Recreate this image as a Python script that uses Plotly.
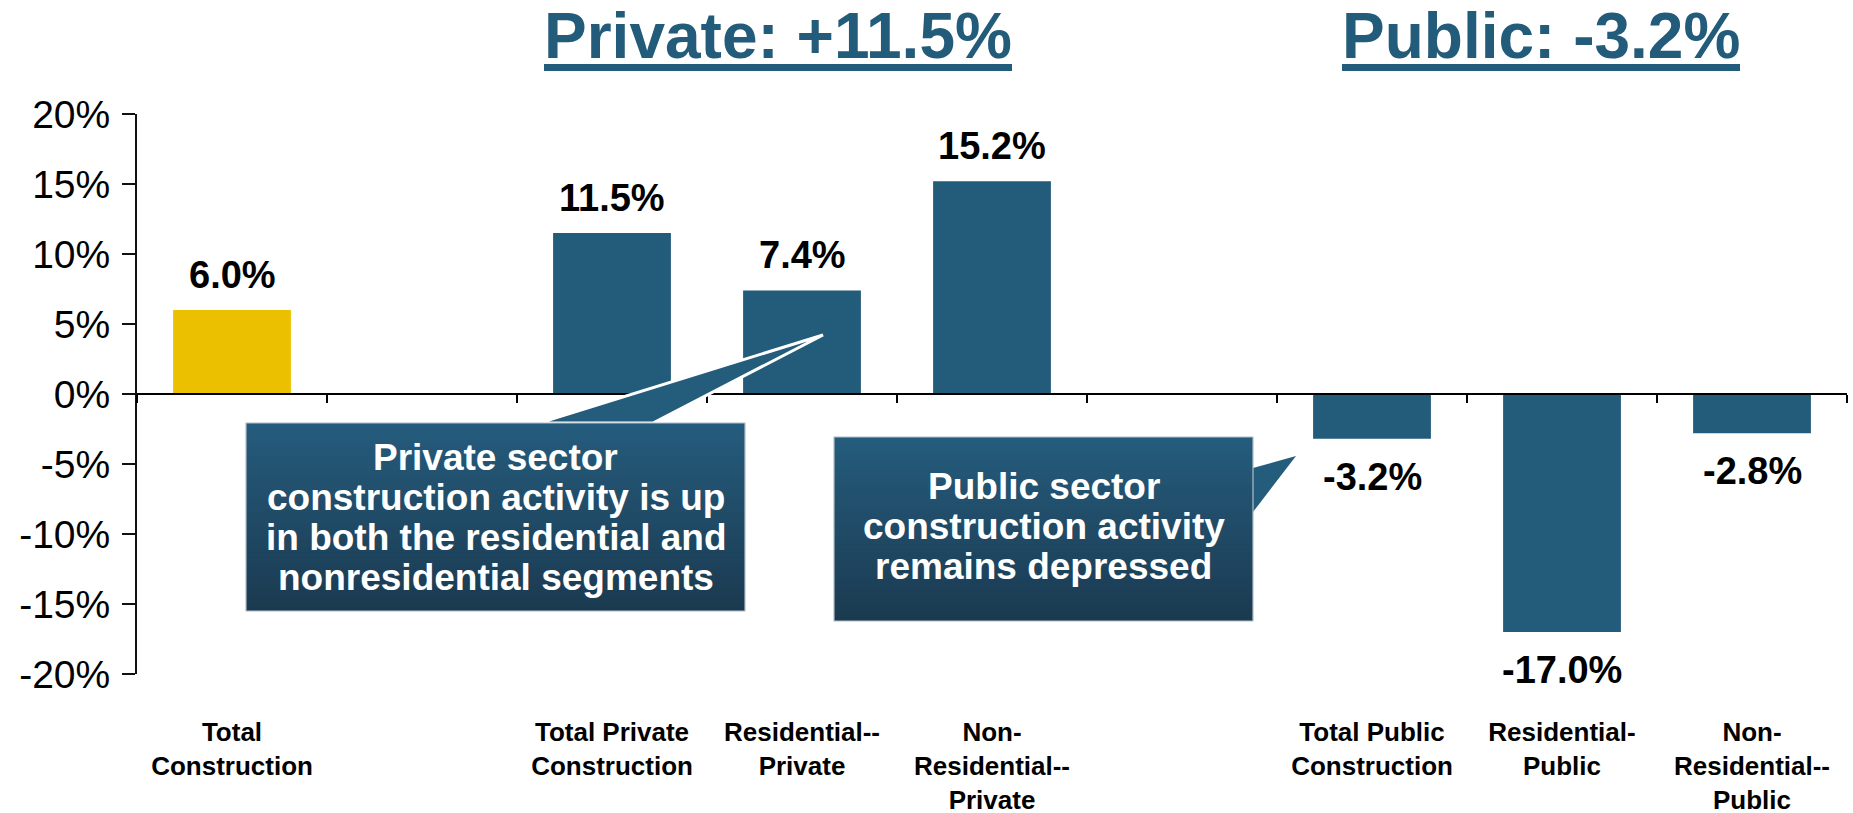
import plotly.graph_objects as go

# ---- data -------------------------------------------------------------
categories = [
    "Total<br>Construction",
    " ",
    "Total Private<br>Construction",
    "Residential--<br>Private",
    "Non-<br>Residential--<br>Private",
    "  ",
    "Total Public<br>Construction",
    "Residential-<br>Public",
    "Non-<br>Residential--<br>Public",
]
values = [6.0, None, 11.5, 7.4, 15.2, None, -3.2, -17.0, -2.8]
bar_colors = ["#EBC000", None, "#235B7A", "#235B7A", "#235B7A", None,
              "#235B7A", "#235B7A", "#235B7A"]
y_ticks = [-20, -15, -10, -5, 0, 5, 10, 15, 20]
y_tick_labels = ["-20%", "-15%", "-10%", "-5%", "0%", "5%", "10%", "15%", "20%"]

private_title = "Private: +11.5%"
public_title = "Public: -3.2%"
private_note = ["Private sector", "construction activity is up",
                "in both the residential and", "nonresidential segments"]
public_note = ["Public sector", "construction activity", "remains depressed"]

# ---- page geometry ----------------------------------------------------
W, H = 1853, 813
L, R, T, B = 137, 6, 114, 139
PW, PH = W - L - R, H - T - B
FONT = "Liberation Sans, Arial, Helvetica, sans-serif"
TEAL = "#235B7A"


def px(x):
    return (x - L) / PW


def py(y):
    return (H - B - y) / PH


fig = go.Figure()

fig.add_trace(go.Bar(
    x=categories, y=values,
    marker=dict(color=[c or TEAL for c in bar_colors], line=dict(width=0)),
    hoverinfo="skip", showlegend=False,
))
# carrier for the zero-line axis categories
fig.add_trace(go.Scatter(
    x=categories, y=values, mode="none", xaxis="x2",
    hoverinfo="skip", showlegend=False,
))

annotations = []
# value labels
for cat, v in zip(categories, values):
    if v is None:
        continue
    annotations.append(dict(
        x=cat, y=v, xref="x", yref="y", text=f"{v:.1f}%", showarrow=False,
        yanchor="bottom" if v >= 0 else "top", yshift=12 if v >= 0 else -15,
        font=dict(family=FONT, size=38, color="black", weight="bold"),
    ))

shapes = []

# section headings with thick underline bars
for text, cx, ux0, ux1 in [(private_title, 778, 544, 1012),
                           (public_title, 1541, 1342, 1740)]:
    annotations.append(dict(
        x=px(cx), y=py(-2), xref="paper", yref="paper", xanchor="center",
        yanchor="top", showarrow=False, text=text,
        font=dict(family=FONT, size=64, color=TEAL, weight="bold"),
    ))
    shapes.append(dict(
        type="rect", xref="paper", yref="paper",
        x0=px(ux0), x1=px(ux1), y0=py(64), y1=py(71),
        fillcolor=TEAL, line=dict(width=0), layer="above",
    ))

annotations.append(dict(
    x=px(193), y=py(2), xref="paper", yref="paper", xanchor="center",
    yanchor="bottom", showarrow=False, text="(%)",
    font=dict(family=FONT, size=42, color=TEAL, weight="bold"),
))


def callout(x0, y0, x1, y1, wedge, wedge_outline):
    # pointer wedge
    path = "M {} {} L {} {} L {} {} Z".format(
        *[f"{px(a):.5f}" if i % 2 == 0 else f"{py(a):.5f}"
          for i, a in enumerate(wedge)])
    shapes.append(dict(
        type="path", path=path, xref="paper", yref="paper",
        fillcolor="#245C7C",
        line=dict(color="white", width=3 if wedge_outline else 0),
        layer="above",
    ))
    # vertical gradient body: each band runs to the bottom edge so no seams show
    n = 48
    top, bot = (37, 92, 125), (27, 58, 80)
    for i in range(n):
        t = (i + 0.5) / n
        c = tuple(round(top[k] + (bot[k] - top[k]) * t) for k in range(3))
        ya = y0 + (y1 - y0) * i / n
        shapes.append(dict(
            type="rect", xref="paper", yref="paper",
            x0=px(x0), x1=px(x1), y0=py(ya), y1=py(y1),
            fillcolor=f"rgb{c}", line=dict(width=0), layer="above",
        ))
    shapes.append(dict(
        type="rect", xref="paper", yref="paper",
        x0=px(x0), x1=px(x1), y0=py(y0), y1=py(y1),
        line=dict(color="#AFBFC9", width=1.2), layer="above",
    ))


callout(246, 423, 745, 611, (539, 423, 823, 335, 653, 423), True)
callout(834, 437, 1253, 621, (1253, 468, 1296, 456, 1253, 512), False)

for i, line in enumerate(private_note):
    annotations.append(dict(
        x=px(495.5), y=py(457 + 40.2 * i), xref="paper", yref="paper",
        xanchor="center", yanchor="middle", showarrow=False,
        text=line, font=dict(family=FONT, size=37, color="white", weight="bold"),
    ))
for i, line in enumerate(public_note):
    annotations.append(dict(
        x=px(1043.5), y=py(486 + 40.2 * i), xref="paper", yref="paper",
        xanchor="center", yanchor="middle", showarrow=False,
        text=line, font=dict(family=FONT, size=37, color="white", weight="bold"),
    ))

fig.update_layout(
    width=W, height=H,
    margin=dict(l=L, r=R, t=T, b=B, pad=0, autoexpand=False),
    paper_bgcolor="white", plot_bgcolor="white",
    bargap=0.38, showlegend=False,
    font=dict(family=FONT, color="black"),
    xaxis=dict(
        type="category", categoryorder="array", categoryarray=categories,
        showline=False, ticks="", showgrid=False, zeroline=False,
        automargin=False,
        tickfont=dict(family=FONT, size=26, color="black", weight="bold"),
        ticklabelstandoff=40,
    ),
    xaxis2=dict(
        type="category", categoryorder="array", categoryarray=categories,
        overlaying="x", matches="x", anchor="free", position=0.5,
        showline=True, linecolor="black", linewidth=2,
        ticks="outside", tickson="boundaries", ticklen=8, tickwidth=2,
        tickcolor="black", showticklabels=False, showgrid=False,
        zeroline=False, automargin=False,
    ),
    yaxis=dict(
        range=[-20, 20], tickvals=y_ticks, ticktext=y_tick_labels,
        showline=True, linecolor="#111", linewidth=2,
        ticks="outside", ticklen=13, tickwidth=2, tickcolor="#111",
        showgrid=False, zeroline=False, automargin=False,
        tickfont=dict(family=FONT, size=39, color="black"),
        ticklabelstandoff=4,
    ),
    annotations=annotations,
    shapes=shapes,
)

fig.write_html("out.html")
